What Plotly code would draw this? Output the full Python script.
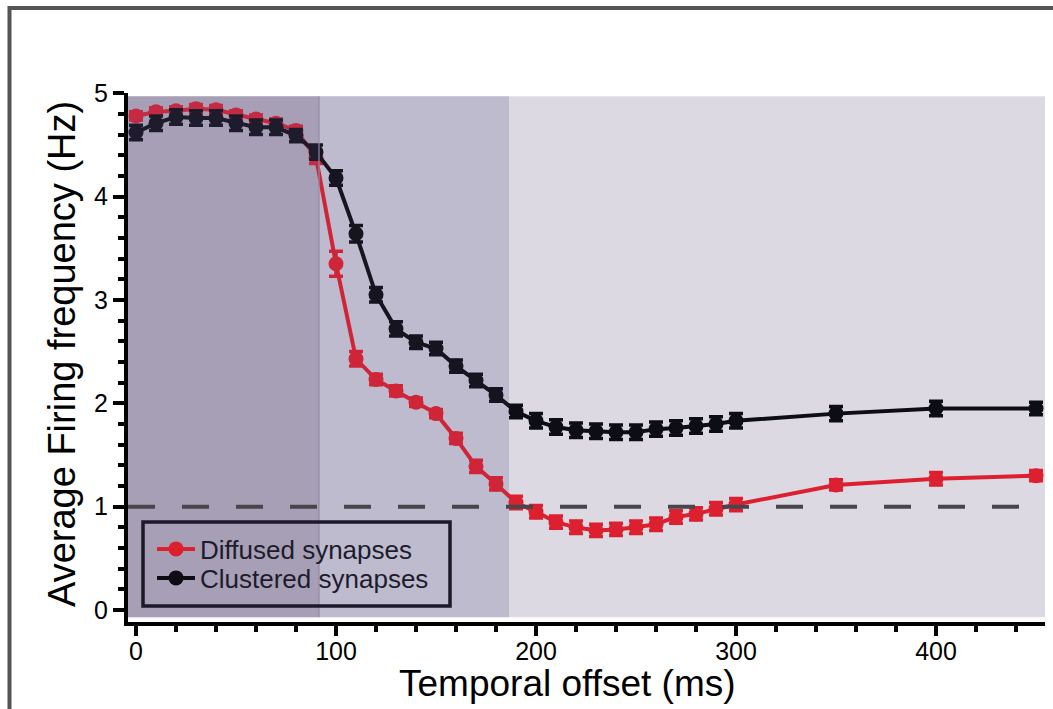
import plotly.graph_objects as go

# ---- data ----
offset_ms = [0, 10, 20, 30, 40, 50, 60, 70, 80, 90, 100, 110, 120, 130, 140, 150,
             160, 170, 180, 190, 200, 210, 220, 230, 240, 250, 260, 270, 280, 290,
             300, 350, 400, 450]
diffused = [4.78, 4.82, 4.83, 4.85, 4.84, 4.79, 4.75, 4.71, 4.64, 4.38, 3.35, 2.43,
            2.23, 2.12, 2.01, 1.90, 1.66, 1.39, 1.22, 1.04, 0.95, 0.85, 0.80, 0.77,
            0.78, 0.80, 0.83, 0.90, 0.93, 0.98, 1.02, 1.21, 1.27, 1.30]
diffused_err = [0.04, 0.04, 0.04, 0.04, 0.04, 0.04, 0.04, 0.04, 0.04, 0.06, 0.12, 0.07,
                0.05, 0.05, 0.04, 0.04, 0.05, 0.06, 0.06, 0.06, 0.06, 0.06, 0.06, 0.06,
                0.06, 0.06, 0.06, 0.06, 0.06, 0.06, 0.06, 0.05, 0.06, 0.05]
clustered = [4.62, 4.71, 4.77, 4.76, 4.76, 4.71, 4.67, 4.67, 4.59, 4.43, 4.18, 3.64,
             3.05, 2.72, 2.59, 2.53, 2.36, 2.22, 2.08, 1.92, 1.83, 1.77, 1.74, 1.73,
             1.72, 1.72, 1.75, 1.76, 1.78, 1.80, 1.83, 1.90, 1.95, 1.95]
clustered_err = [0.07, 0.07, 0.07, 0.07, 0.07, 0.07, 0.07, 0.07, 0.06, 0.07, 0.07, 0.08,
                 0.07, 0.07, 0.06, 0.06, 0.06, 0.06, 0.06, 0.06, 0.07, 0.07, 0.07, 0.07,
                 0.07, 0.07, 0.07, 0.07, 0.07, 0.07, 0.07, 0.07, 0.07, 0.06]
series_names = ["Diffused synapses", "Clustered synapses"]
threshold = 1.0
phase_edges = [-4, 91.5, 186.5, 454.5]
x_ticks = [0, 100, 200, 300, 400]
y_ticks = [0, 1, 2, 3, 4, 5]

RED = "#dc2030"
BLACK = "#0d0d14"
FONT = "Liberation Sans, Arial, Helvetica, sans-serif"

W, H, L, T = 917.0, 529.0, 128.0, 93.0
def px(xp):
    return (xp - L) / W
def py(yp):
    return (T + H - yp) / H

fig = go.Figure()
for name, vals, errs, col, lg in [(series_names[0], diffused, diffused_err, RED, "legend"),
                                  (series_names[1], clustered, clustered_err, BLACK, "legend2")]:
    fig.add_trace(go.Scatter(
        x=offset_ms, y=vals, name=name, mode="lines+markers", legend=lg,
        line=dict(color=col, width=4),
        marker=dict(color=col, size=15),
        error_y=dict(type="data", array=errs, color=col, thickness=3.5, width=7),
    ))

shapes = []
bg_cols = ["rgb(184,177,192)", "rgb(202,199,214)", "rgb(220,217,227)"]
for i in range(3):
    shapes.append(dict(type="rect", layer="below", xref="x", yref="y",
                       x0=phase_edges[i], x1=phase_edges[i + 1], y0=-0.07, y1=4.97,
                       fillcolor=bg_cols[i], line=dict(width=0)))
ov_alpha = [0.2, 0.1]
for i in range(2):
    shapes.append(dict(type="rect", layer="above", xref="x", yref="y",
                       x0=phase_edges[i], x1=phase_edges[i + 1], y0=-0.07, y1=4.97,
                       fillcolor=f"rgba(100,90,140,{ov_alpha[i]})", line=dict(width=0)))
shapes.append(dict(type="line", layer="above", xref="x", yref="y",
                   x0=phase_edges[1], x1=phase_edges[1], y0=-0.07, y1=4.97,
                   line=dict(color="rgb(145,138,165)", width=1.2)))
shapes.append(dict(type="line", layer="above", xref="x", yref="y",
                   x0=-4, x1=441.5, y0=threshold, y1=threshold,
                   line=dict(color="#46464c", width=4, dash="27px,27px")))
shapes.append(dict(type="rect", layer="above", xref="paper", yref="paper",
                   x0=px(143), x1=px(450), y0=py(606), y1=py(522),
                   line=dict(color="#1a1a28", width=3.5), fillcolor="rgba(0,0,0,0)"))
shapes.append(dict(type="rect", layer="above", xref="paper", yref="paper",
                   x0=px(9.5), x1=px(1100), y0=py(760), y1=py(8),
                   line=dict(color="#555555", width=4), fillcolor="rgba(0,0,0,0)"))

leg_common = dict(xanchor="left", yanchor="middle", bgcolor="rgba(0,0,0,0)",
                  borderwidth=0, itemwidth=38,
                  font=dict(family=FONT, size=26, color="#1c1c2c"))

fig.update_layout(
    width=1053, height=709,
    margin=dict(l=128, r=8, t=93, b=87),
    paper_bgcolor="white", plot_bgcolor="white",
    shapes=shapes,
    showlegend=True,
    legend=dict(x=px(152), y=py(549), **leg_common),
    legend2=dict(x=px(152), y=py(578), **leg_common),
    font=dict(family=FONT, color="black"),
    annotations=[
        dict(text="Temporal offset (ms)", xref="paper", yref="paper",
             x=px(567), y=py(683), xanchor="center", yanchor="middle", showarrow=False,
             font=dict(family=FONT, size=37, color="black")),
        dict(text="Average Firing frequency (Hz)", xref="paper", yref="paper",
             x=px(62), y=py(354), xanchor="center", yanchor="middle",
             textangle=-90, showarrow=False,
             font=dict(family=FONT, size=38, color="black")),
    ],
)
fig.update_xaxes(range=[-4, 454.5], tickvals=x_ticks, ticktext=[str(v) for v in x_ticks],
                 showgrid=False, zeroline=False, showline=True, linecolor="black",
                 linewidth=4, ticks="outside", ticklen=10, tickwidth=4, tickcolor="black",
                 ticklabelstandoff=-6,
                 tickfont=dict(family=FONT, size=25, color="black"),
                 minor=dict(dtick=20, tick0=0, ticks="outside", ticklen=6, tickwidth=4,
                            tickcolor="black", showgrid=False))
fig.update_yaxes(range=[-0.116, 5.002], tickvals=y_ticks, ticktext=[str(v) for v in y_ticks],
                 showgrid=False, zeroline=False, showline=True, linecolor="black",
                 linewidth=4, ticks="outside", ticklen=11, tickwidth=4, tickcolor="black",
                 tickfont=dict(family=FONT, size=25, color="black"),
                 minor=dict(dtick=0.2, tick0=0, ticks="outside", ticklen=6, tickwidth=4,
                            tickcolor="black", showgrid=False))

fig.write_html("out.html")
